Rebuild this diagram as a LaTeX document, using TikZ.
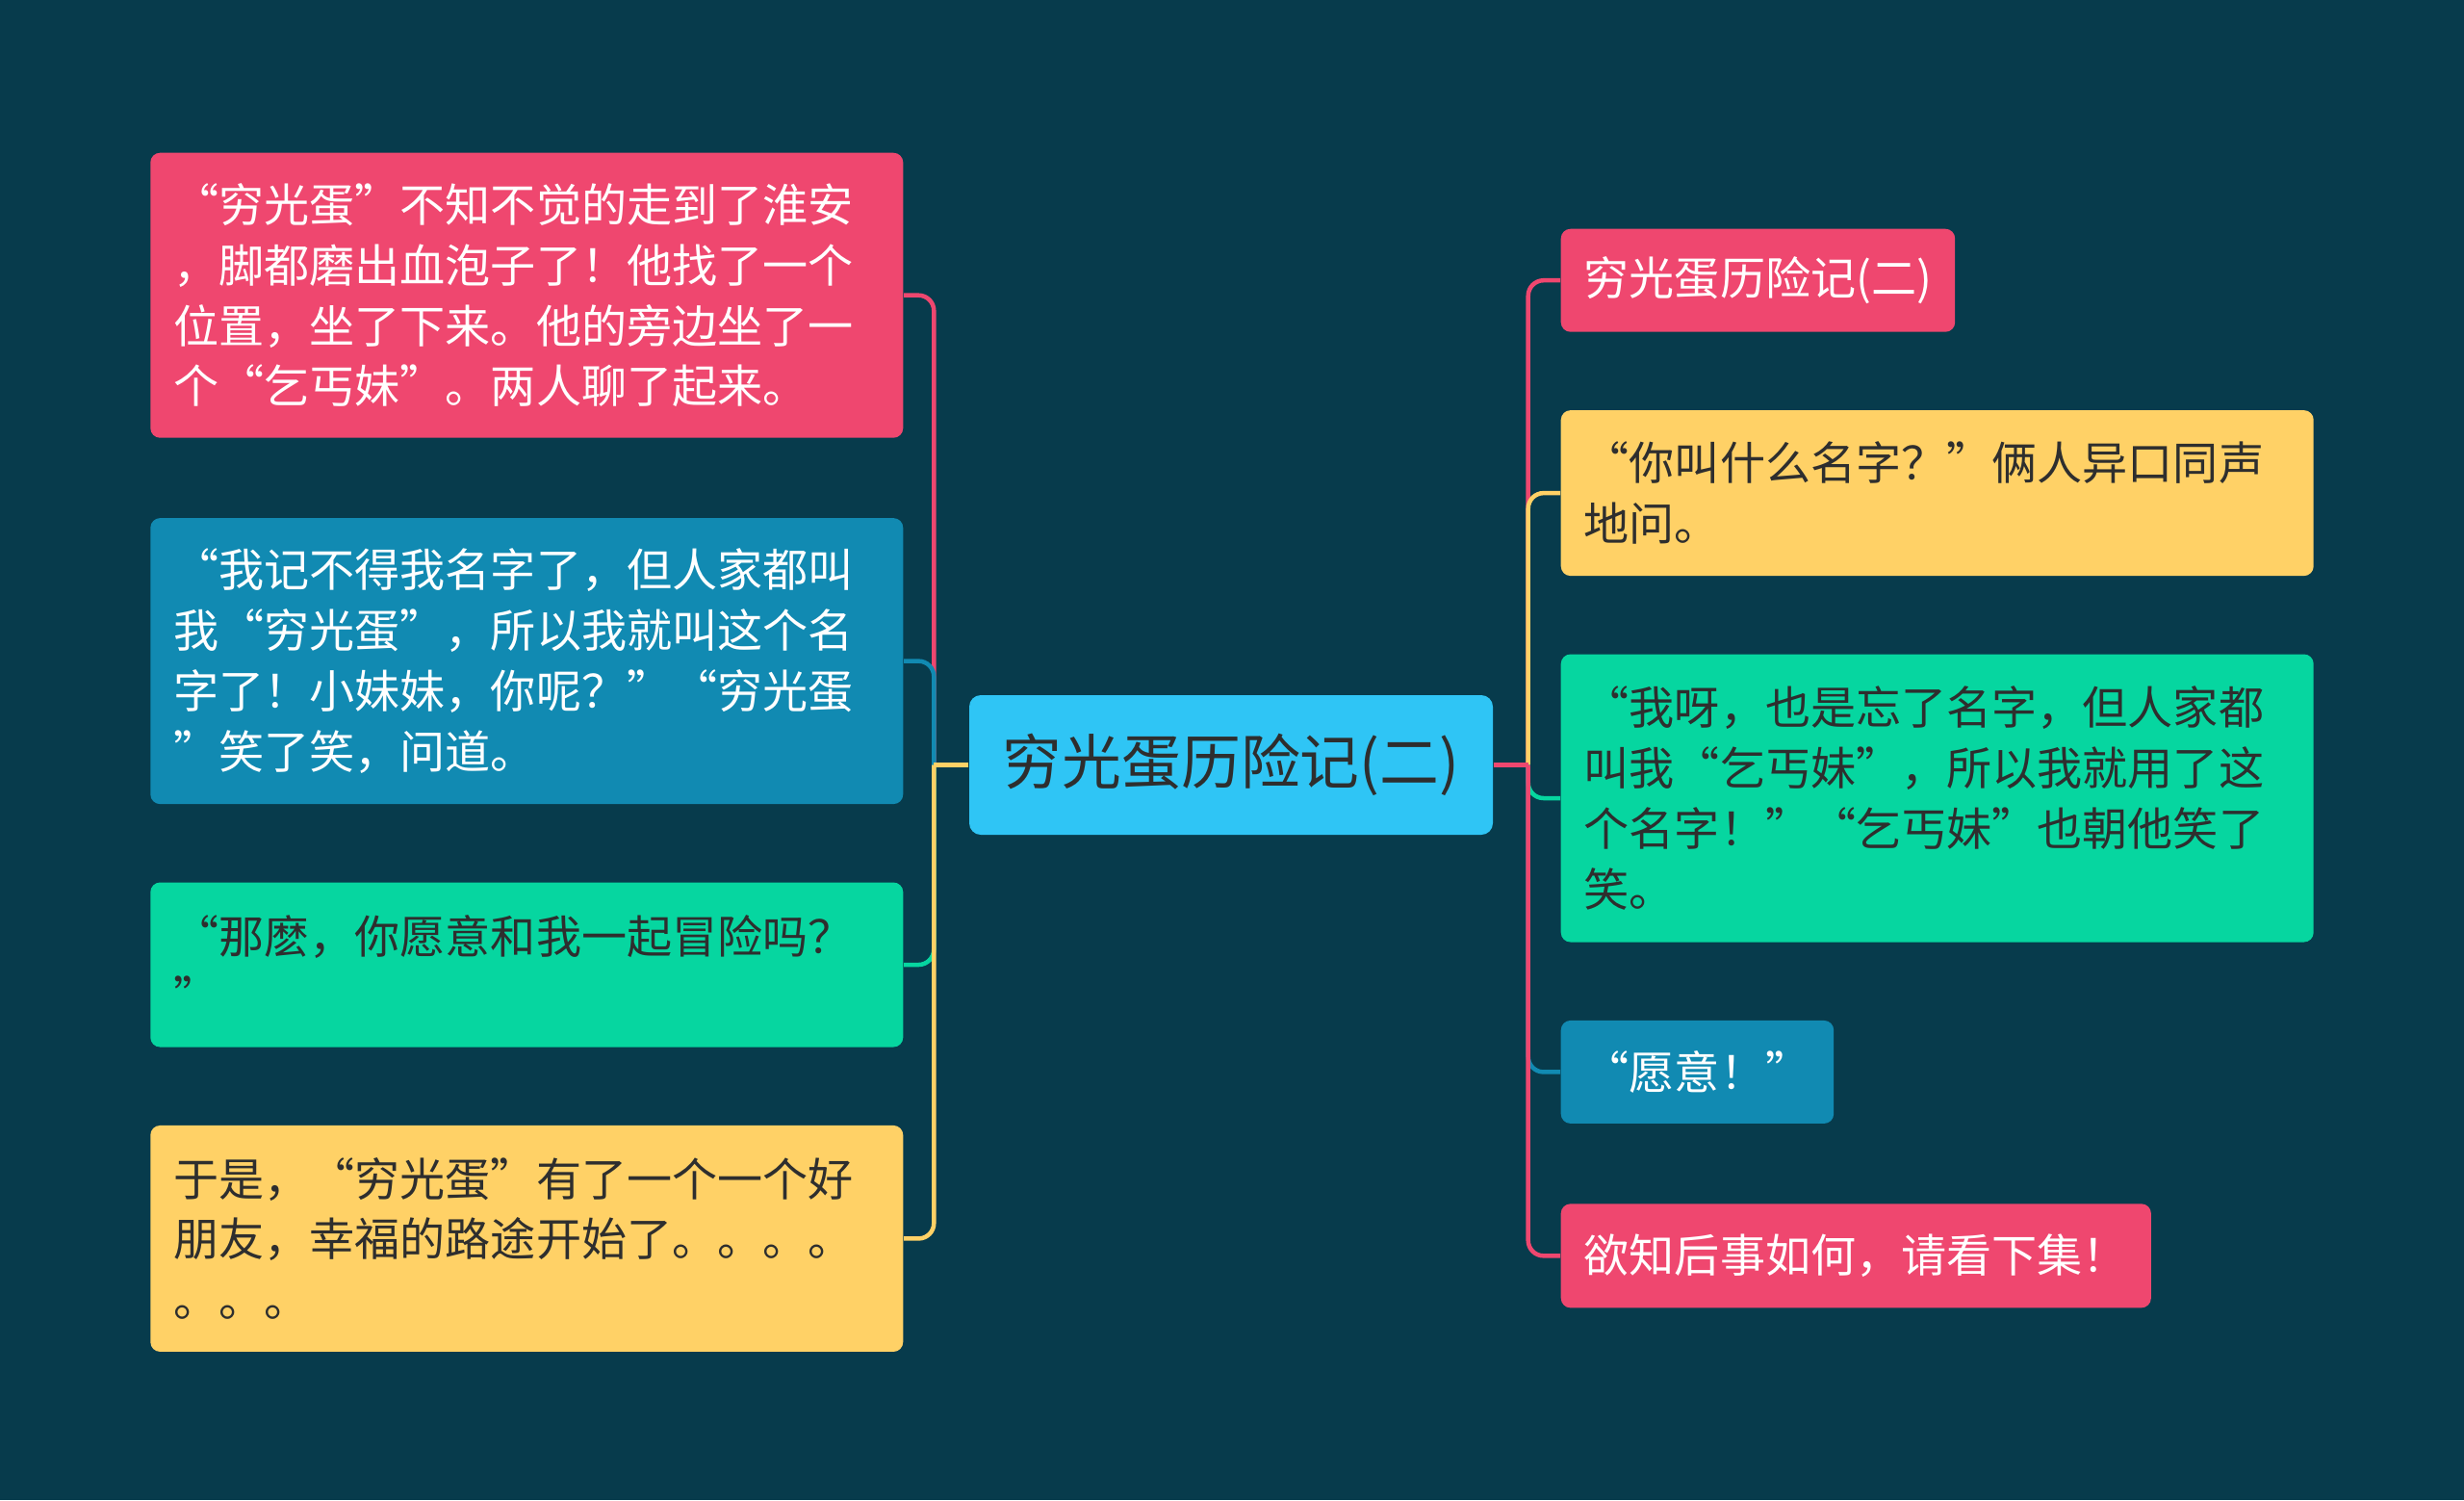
\documentclass[tikz,border=0pt]{standalone}
\usepackage{fontspec}
\newfontfamily\cjk{Noto Sans CJK SC}
\usetikzlibrary{positioning}

\definecolor{bgteal}{HTML}{073B4C}
\definecolor{mmpink}{HTML}{EF476F}
\definecolor{mmyellow}{HTML}{FFD166}
\definecolor{mmgreen}{HTML}{06D6A0}
\definecolor{mmblue}{HTML}{118AB2}
\definecolor{mmsky}{HTML}{2FC5F5}
\definecolor{inkdark}{HTML}{2E2E2E}

\begin{document}
\begin{tikzpicture}[
  node distance=0.8cm,
  topic/.style={
    rounded corners=0.1cm, inner xsep=0.24cm, inner ysep=0pt, align=left,
    font=\cjk\fontsize{13.4pt}{17.9pt}\selectfont
  },
  wide/.style={topic, text width=7.34cm},
  pinkbox/.style={fill=mmpink, text=white},
  bluebox/.style={fill=mmblue, text=white},
  greenbox/.style={fill=mmgreen, text=inkdark},
  yellowbox/.style={fill=mmyellow, text=inkdark},
  central/.style={
    fill=mmsky, text=inkdark, rounded corners=0.12cm,
    minimum width=5.44cm, minimum height=1.45cm,
    font=\cjk\fontsize{17.6pt}{20pt}\selectfont
  },
  branch/.style={line width=0.045cm, rounded corners=0.16cm},
  stub/.style={line width=0.045cm},
]

\fill[bgteal] (0,0) rectangle (25.6,-15.58);
\useasboundingbox (0,0) rectangle (25.6,-15.58);

\node[central] (root) at (12.79,-7.945) {穷光蛋历险记(二)};
\coordinate[left=0.36cm of root.west] (lt);
\coordinate[right=0.36cm of root.east] (rt);

% left side
\node[wide, pinkbox, minimum height=2.96cm, anchor=north east] (l1) at (9.39,-1.58)
  {“穷光蛋”不知不觉的走到了淮安\\，脚都磨出血泡子了！他找了一个\\位置，坐了下来。他的旁边坐了一\\个“乞丐妹”。两人聊了起来。};
\node[wide, bluebox, minimum height=2.97cm, below=0.82cm of l1.south east, anchor=north east] (l2)
  {“我记不得我名字了，但人家都叫\\我“穷光蛋”，所以我就叫这个名\\字了！小妹妹，你呢？”“穷光蛋\\”笑了笑，问道。};
\node[wide, greenbox, minimum height=1.71cm, below=of l2.south east, anchor=north east] (l3)
  {“那麽，你愿意和我一起冒险吗？\\”};
\node[wide, yellowbox, minimum height=2.35cm, below=of l3.south east, anchor=north east] (l4)
  {于是，“穷光蛋”有了一个一个好\\朋友，幸福的路途开始了。。。。\\。。。};

% right side
\node[topic, pinkbox, minimum height=1.07cm, anchor=north west] (r1) at (16.21,-2.37)
  {穷光蛋历险记(二)};
\node[wide, yellowbox, minimum height=1.72cm, below=of r1.south west, anchor=north west] (r2)
  {“你叫什么名字？”俩人异口同声\\地问。};
\node[wide, greenbox, minimum height=2.99cm, below=of r2.south west, anchor=north west] (r3)
  {“我呀，也是忘了名字，但人家都\\叫我“乞丐妹”，所以我就用了这\\个名字！”“乞丐妹”也朝他笑了\\笑。};
\node[topic, bluebox, minimum height=1.07cm, below=of r3.south west, anchor=north west] (r4)
  {“愿意！”};
\node[topic, pinkbox, minimum height=1.08cm, below=0.82cm of r4.south west, anchor=north west] (r5)
  {欲知后事如何，请看下集！};

% connectors
\draw[branch, mmpink] (lt) |- (l1.east);
\draw[branch, mmblue] (lt) |- (l2.east);
\draw[branch, mmgreen] (lt) |- (l3.east);
\draw[branch, mmyellow] (lt) |- (l4.east);
\draw[stub, mmyellow] (root.west) -- (lt);

\draw[branch, mmpink] (rt) |- (r1.west);
\draw[branch, mmyellow] (rt) |- (r2.west);
\draw[branch, mmgreen] (rt) |- (r3.west);
\draw[branch, mmblue] (rt) |- (r4.west);
\draw[branch, mmpink] (rt) |- (r5.west);
\draw[stub, mmpink] (root.east) -- (rt);

\end{tikzpicture}
\end{document}
